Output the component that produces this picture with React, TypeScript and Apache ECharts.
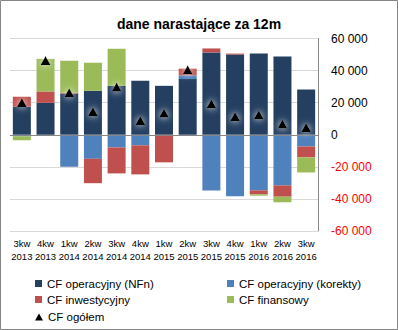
import React, { useEffect, useRef } from "react";
import * as echarts from "echarts";

const categories = ["3kw\n2013", "4kw\n2013", "1kw\n2014", "2kw\n2014", "3kw\n2014", "4kw\n2014", "1kw\n2015", "2kw\n2015", "3kw\n2015", "4kw\n2015", "1kw\n2016", "2kw\n2016", "3kw\n2016"];
const nfn = [17400, 19900, 25700, 27400, 30500, 33600, 30500, 34700, 51300, 50000, 50700, 48800, 28200];
const korekty = [-1000, 0, -19900, -15000, -7900, -6600, 0, 2300, -34700, -38400, -34700, -31600, -7300];
const inwest = [6300, 7100, 500, -15200, -16200, -18100, -17200, 4200, 2500, 600, -2500, -7000, -6800];
const finans = [-2500, 20300, 20000, 17500, 23100, 0, 0, 0, 0, 0, -800, -3500, -9400];
const ogolem = [20100, 46300, 26200, 14500, 29700, 8900, 13500, 40500, 19300, 11400, 12500, 6700, 4500];
const seriesNames = ["CF operacyjny (NFn)", "CF operacyjny (korekty)", "CF inwestycyjny", "CF finansowy", "CF ogółem"];
const colors = ["#243F60", "#4F81BD", "#C0504D", "#9BBB59", "#000000"];

const FONT = "Liberation Sans, Arial, sans-serif";

function fmt(v: number): string {
  const s = Math.abs(v).toString().replace(/\B(?=(\d{3})+(?!\d))/g, " ");
  return v < 0 ? "-" + s : s;
}

export default function App() {
  const ref = useRef<HTMLDivElement>(null);
  useEffect(() => {
    if (!ref.current) return;
    const chart = echarts.init(ref.current, undefined, { renderer: "svg" });
    const barData = [nfn, korekty, inwest, finans];
    const legendPos = [
      { left: 35, top: 277.5 },
      { left: 227, top: 277.5 },
      { left: 35, top: 293.5 },
      { left: 227, top: 293.5 },
      { left: 35, top: 311 },
    ];
    chart.setOption({
      animation: false,
      backgroundColor: "#ffffff",
      color: colors,
      title: {
        text: "dane narastające za 12m",
        left: "center",
        top: 12,
        textStyle: { fontFamily: FONT, fontSize: 14, fontWeight: "bold", color: "#000" },
      },
      graphic: [
        {
          type: "rect",
          shape: { x: 0.5, y: 0.5, width: 397, height: 329 },
          style: { fill: "none", stroke: "#868686", lineWidth: 1 },
          silent: true,
        },
      ],
      legend: seriesNames.map((n, i) => ({
        data: [n],
        left: legendPos[i].left,
        top: legendPos[i].top,
        padding: 0,
        itemWidth: i === 4 ? 8 : 7,
        itemHeight: 7,
        icon: i === 4 ? "triangle" : "rect",
        itemStyle: { color: colors[i], opacity: 1, shadowBlur: 0, shadowColor: "transparent" },
        textStyle: { fontFamily: FONT, fontSize: 11.5, color: "#000" },
        selectedMode: false,
      })),
      grid: { left: 10, right: 80, top: 38.5, bottom: 99, containLabel: false },
      xAxis: {
        type: "category",
        data: categories,
        axisLine: { show: false, onZero: false },
        axisTick: { show: false },
        axisLabel: {
          margin: 6,
          fontFamily: FONT,
          fontSize: 9.5,
          lineHeight: 12.7,
          color: "#000",
          interval: 0,
        },
      },
      yAxis: {
        type: "value",
        position: "right",
        min: -60000,
        max: 60000,
        interval: 20000,
        axisLine: { show: true, lineStyle: { color: "#868686", width: 1 } },
        axisTick: { show: false },
        splitLine: { show: true, lineStyle: { color: "#D9D9D9", width: 1 } },
        axisLabel: {
          margin: 13,
          fontFamily: FONT,
          fontSize: 12,
          formatter: (v: number) => (v < 0 ? "{neg|" + fmt(v) + "}" : "{pos|" + fmt(v) + "}"),
          rich: {
            neg: { color: "#FF0000", fontFamily: FONT, fontSize: 12 },
            pos: { color: "#000000", fontFamily: FONT, fontSize: 12 },
          },
        },
      },
      series: [
        ...barData.map((d, i) => ({
          name: seriesNames[i],
          type: "bar",
          stack: "cf",
          barWidth: 18,
          data: d,
          itemStyle: { color: colors[i] },
        })),
        {
          name: seriesNames[4],
          type: "scatter",
          symbol: "triangle",
          symbolSize: [10, 9],
          data: ogolem,
          z: 5,
          itemStyle: { color: "#000", opacity: 1, shadowBlur: 7, shadowColor: "rgba(255,255,255,1)" },
          markLine: {
            silent: true,
            symbol: "none",
            label: { show: false },
            lineStyle: { color: "#868686", width: 1, type: "solid" },
            data: [{ yAxis: 0 }],
          },
        },
      ],
    });
    return () => chart.dispose();
  }, []);
  return <div ref={ref} style={{ position: "fixed", left: 0, top: 0, width: 398, height: 330 }} />;
}
